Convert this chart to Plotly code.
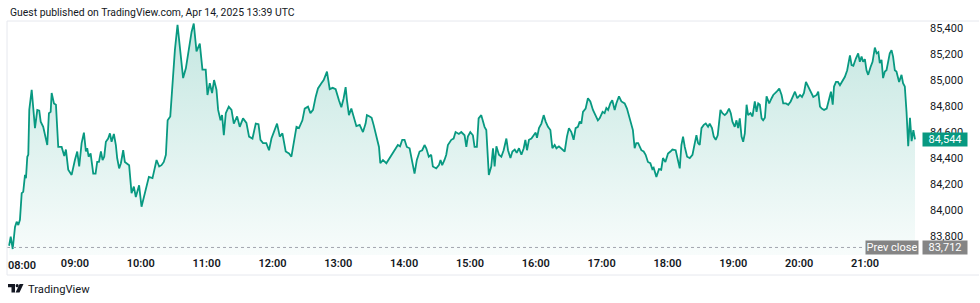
import pandas as pd
import plotly.graph_objects as go

# ---- data -------------------------------------------------------------
SESSION_START = "2025-04-14 08:00"
MINUTES = [
    0.0, 1.5, 3.3, 5.4, 6.9, 8.4, 9.9, 11.5, 12.9, 14.5, 15.4, 16.6, 17.5, 18.4, 20.6, 23.6,
    25.7, 27.5, 28.8, 31.1, 34.8, 36.3, 37.9, 38.8, 40.9, 42.7, 44.8, 47.9, 50.3, 51.8, 53.9,
    57.0, 60.0, 62.1, 63.9, 66.1, 68.2, 70.0, 71.2, 72.5, 74.3, 76.7, 78.8, 80.3, 81.9, 83.7,
    85.2, 86.7, 88.2, 90.3, 91.9, 93.4, 95.5, 97.3, 98.5, 100.3, 101.9, 104.0, 105.5, 109.4,
    111.6, 113.7, 115.5, 117.1, 118.5, 120.7, 122.8, 125.3, 127.4, 130.7, 134.4, 136.8, 138.9,
    141.0, 142.9, 144.5, 146.9, 149.2, 151.1, 153.5, 158.6, 161.1, 164.1, 166.3, 168.3, 170.8,
    173.8, 176.2, 179.2, 180.8, 182.9, 185.0, 186.8, 189.0, 190.5, 192.7, 194.1, 195.7, 197.5,
    200.2, 202.7, 204.8, 207.8, 210.2, 213.2, 216.3, 218.7, 221.8, 224.8, 227.3, 229.1, 231.4,
    234.4, 236.9, 239.1, 242.1, 244.2, 246.7, 249.1, 252.1, 255.1, 257.3, 259.4, 261.9, 264.2,
    267.3, 269.4, 272.4, 274.6, 277.0, 279.4, 281.5, 284.6, 286.7, 289.7, 292.2, 294.9, 297.6,
    300.6, 302.8, 304.9, 306.7, 307.9, 309.7, 311.9, 314.0, 316.5, 319.5, 322.5, 324.9, 326.1,
    328.6, 330.4, 332.2, 334.7, 337.1, 338.3, 340.7, 343.8, 346.8, 349.8, 351.3, 354.3, 356.3,
    358.3, 360.4, 362.5, 365.0, 366.5, 368.0, 369.5, 371.6, 374.1, 376.5, 378.6, 380.2, 382.5,
    384.7, 386.2, 389.3, 391.7, 393.2, 394.7, 396.8, 398.4, 399.9, 403.0, 405.1, 406.9, 409.9,
    412.1, 415.1, 416.7, 418.1, 420.3, 422.7, 424.2, 426.3, 427.9, 430.3, 431.8, 433.3, 434.9,
    437.2, 439.4, 441.0, 442.5, 444.1, 446.4, 448.6, 450.7, 453.2, 454.7, 456.9, 458.7, 460.8,
    462.6, 464.7, 466.9, 469.0, 470.5, 472.0, 473.8, 476.0, 478.1, 479.9, 481.1, 482.9, 485.1,
    487.2, 489.0, 491.1, 493.3, 495.1, 497.2, 498.8, 501.1, 503.3, 504.8, 506.3, 508.4, 510.2,
    512.4, 514.5, 516.3, 518.4, 520.0, 521.5, 523.0, 525.4, 527.5, 529.7, 532.1, 534.5, 536.6,
    538.2, 540.9, 542.7, 544.3, 545.9, 547.9, 549.7, 551.9, 553.4, 555.8, 558.0, 561.0, 563.1,
    564.9, 567.1, 568.5, 570.1, 571.6, 573.3, 576.2, 578.3, 580.1, 582.2, 584.4, 586.2, 587.4,
    589.9, 592.3, 594.3, 595.9, 598.1, 600.5, 602.7, 604.5, 607.5, 609.6, 611.2, 612.7, 614.2,
    615.8, 617.9, 620.3, 622.8, 624.9, 626.4, 627.9, 629.4, 631.0, 633.1, 634.9, 637.0, 638.5,
    640.6, 642.2, 644.0, 645.8, 648.3, 650.1, 652.2, 654.0, 656.1, 657.7, 659.2, 661.3, 662.9,
    664.4, 665.9, 667.5, 669.0, 670.5, 672.1, 673.5, 675.7, 677.5, 679.6, 681.2, 682.7, 684.2,
    685.8, 687.2, 688.8, 690.3, 692.7, 694.9, 696.4, 699.5, 701.9, 704.0, 705.5, 708.0, 710.1,
    712.3, 714.7, 716.2, 718.3, 720.8, 722.6, 724.4, 726.2, 728.3, 730.5, 732.9, 736.0, 737.4,
    739.0, 740.6, 742.7, 745.1, 747.5, 749.0, 750.6, 751.8, 753.6, 755.4, 757.2, 759.6, 761.7,
    763.8, 766.3, 767.8, 769.4, 771.7, 773.8, 775.3, 776.9, 778.3, 779.9, 781.4, 782.9, 785.1,
    786.9, 789.0, 790.6, 792.2, 793.5, 795.1, 796.5, 798.1, 799.6, 801.1, 802.6, 804.2, 805.6,
    807.2, 808.7, 811.1, 813.3, 814.7, 816.3, 817.9, 819.4, 821.0, 822.5, 824.1, 825.6,
]
PRICES = [
    83725, 83795, 83700, 83870, 83910, 83885, 83925, 84130, 84140, 84270, 84245, 84410, 84425, 84770, 84925, 84630,
    84770, 84765, 84680, 84640, 84500, 84745, 84755, 84900, 84820, 84810, 84485, 84485, 84415, 84465, 84310,
    84270, 84385, 84450, 84335, 84515, 84595, 84450, 84475, 84410, 84435, 84280, 84280, 84370, 84370, 84450,
    84385, 84410, 84525, 84550, 84590, 84525, 84585, 84500, 84400, 84320, 84360, 84460, 84370, 84345,
    84130, 84180, 84100, 84140, 84190, 84025, 84100, 84165, 84255, 84245, 84385, 84335, 84345,
    84370, 84425, 84690, 84720, 85000, 85230, 85425, 85015, 85090, 85255, 85370, 85435, 85220,
    85280, 85080, 85080, 84885, 84975, 84900, 85000, 84925, 84770, 84690, 84730, 84575, 84745,
    84795, 84770, 84665, 84720, 84640, 84705, 84670, 84565, 84550, 84665, 84660, 84540, 84515,
    84515, 84460, 84550, 84615, 84665, 84565, 84590, 84450, 84435, 84410, 84515, 84640, 84630,
    84690, 84780, 84795, 84745, 84770, 84870, 84935, 84975, 85000, 85065, 84930, 84940, 84930,
    84845, 84790, 84860, 84945, 84845, 84730, 84780, 84720, 84645, 84655, 84600, 84665, 84730,
    84720, 84710, 84655, 84565, 84485, 84360, 84385, 84360, 84400, 84435, 84460, 84500, 84490,
    84540, 84540, 84485, 84475, 84410, 84335, 84280, 84385, 84450, 84460, 84500, 84475, 84410,
    84425, 84335, 84320, 84345, 84385, 84345, 84385, 84425, 84500, 84540, 84550, 84600, 84585,
    84600, 84575, 84485, 84565, 84600, 84575, 84485, 84485, 84705, 84730, 84680, 84640, 84615,
    84270, 84335, 84475, 84335, 84490, 84425, 84410, 84460, 84550, 84460, 84400, 84450, 84465,
    84440, 84475, 84425, 84475, 84540, 84460, 84540, 84550, 84575, 84595, 84555, 84630, 84665,
    84730, 84680, 84640, 84615, 84475, 84500, 84475, 84490, 84475, 84460, 84450, 84565, 84630,
    84600, 84540, 84630, 84640, 84680, 84665, 84755, 84780, 84860, 84835, 84770, 84730, 84690,
    84705, 84755, 84745, 84785, 84770, 84820, 84845, 84770, 84820, 84875, 84835, 84820, 84780,
    84720, 84640, 84615, 84475, 84515, 84515, 84460, 84450, 84425, 84370, 84360, 84315, 84325,
    84255, 84315, 84310, 84400, 84370, 84435, 84450, 84465, 84460, 84370, 84320, 84500, 84565,
    84485, 84410, 84400, 84425, 84515, 84575, 84515, 84500, 84630, 84655, 84665, 84640, 84665,
    84630, 84565, 84540, 84575, 84770, 84745, 84730, 84745, 84780, 84745, 84680, 84640, 84690,
    84630, 84705, 84565, 84525, 84590, 84810, 84730, 84745, 84720, 84835, 84755, 84820, 84810,
    84705, 84690, 84710, 84875, 84820, 84860, 84885, 84910, 84935, 84885, 84820, 84820, 84810,
    84835, 84885, 84910, 84860, 84885, 84870, 84900, 84985, 84950, 84910, 84870, 84885, 84910,
    84795, 84780, 84770, 84780, 84860, 84910, 84810, 84950, 84985, 84985, 84960, 85000, 85025,
    85075, 85190, 85115, 85110, 85165, 85205, 85140, 85180, 85140, 85160, 85075, 85040, 85100,
    85140, 85250, 85205, 85215, 85130, 85155, 85015, 85065, 85075, 85140, 85205, 85230, 85180,
    85075, 85065, 84985, 85040, 84975, 84950, 84750, 84490, 84710, 84530, 84615, 84544,
]
PREV_CLOSE = 83712
LAST_PRICE = 84544
Y_TICKS = [83800, 84000, 84200, 84400, 84600, 84800, 85000, 85200, 85400]
Y_RANGE = [83654, 85454]
X_RANGE_MIN = [-1.9, 826.5]
HOUR_TICKS = ["09:00", "10:00", "11:00", "12:00", "13:00", "14:00", "15:00",
              "16:00", "17:00", "18:00", "19:00", "20:00", "21:00"]
HEADER = "Guest published on TradingView.com, Apr 14, 2025 13:39 UTC"

# ---- figure -------------------------------------------------------------
W, H = 980, 303
ML, MR, MT, MB = 7, 64, 21, 48
PW, PH = W - ML - MR, H - MT - MB

def px(x):
    return (x - ML) / PW

def py(y):
    return (H - MB - y) / PH

base = pd.Timestamp(SESSION_START)
times = [base + pd.Timedelta(minutes=m) for m in MINUTES]
day = base.strftime("%Y-%m-%d")
tickvals = [pd.Timestamp(f"{day} {h}") for h in HOUR_TICKS]

GREEN = "#089981"
TXT = "#131722"
FONT = "Roboto"

fig = go.Figure()
fig.add_trace(go.Scatter(
    x=times, y=PRICES, mode="lines",
    line=dict(color=GREEN, width=1.8),
    fill="tozeroy",
    fillgradient=dict(type="vertical",
                      colorscale=[[0, "rgba(8,153,129,0.03)"], [1, "rgba(8,153,129,0.24)"]],
                      start=Y_RANGE[0], stop=Y_RANGE[1]),
    hoverinfo="skip", showlegend=False,
))

fig.update_layout(
    width=W, height=H,
    margin=dict(l=ML, r=MR, t=MT, b=MB),
    paper_bgcolor="white", plot_bgcolor="white",
    font=dict(family=FONT, color=TXT),
    xaxis=dict(
        type="date",
        range=[base + pd.Timedelta(minutes=X_RANGE_MIN[0]), base + pd.Timedelta(minutes=X_RANGE_MIN[1])],
        tickvals=tickvals, tickformat="%H:%M",
        showgrid=False, zeroline=False, showline=False,
        ticks="", tickfont=dict(family=FONT, size=11, color=TXT, weight=600),
    ),
    yaxis=dict(
        side="right", range=Y_RANGE, tickvals=Y_TICKS, tickformat=",",
        showgrid=False, zeroline=False, showline=False,
        ticks="", ticklabelstandoff=13,
        tickfont=dict(family=FONT, size=11, color=TXT),
    ),
)

# prev close dotted line
fig.add_shape(type="line", xref="paper", yref="y", x0=0, x1=px(864), y0=PREV_CLOSE, y1=PREV_CLOSE,
              line=dict(color="#a3a6af", width=1, dash="dot"))

# frame lines
for (x0, y0, x1, y1) in [(7, 21, 979, 21), (7, 21, 7, 275), (7, 275, 979, 275)]:
    fig.add_shape(type="line", xref="paper", yref="paper", x0=px(x0), x1=px(x1), y0=py(y0), y1=py(y1),
                  line=dict(color="#e6e8ee", width=1))

ann = []
ann.append(dict(text=HEADER, xref="paper", yref="paper", x=px(8), y=py(13), xanchor="left", yanchor="middle",
                showarrow=False, font=dict(family=FONT, size=10.4, color=TXT)))
ann.append(dict(text="08:00", xref="x", yref="paper", x=base, y=py(265), xshift=13,
                xanchor="center", yanchor="middle", showarrow=False,
                font=dict(family=FONT, size=11, color=TXT, weight=600)))
ann.append(dict(text=f"{LAST_PRICE:,}", xref="paper", yref="y", x=px(944.5), y=LAST_PRICE,
                xanchor="center", yanchor="middle", showarrow=False, bgcolor=GREEN,
                width=42, height=11, borderpad=1, font=dict(family=FONT, size=11, color="white")))
ann.append(dict(text=f"{PREV_CLOSE:,}", xref="paper", yref="y", x=px(944.5), y=PREV_CLOSE,
                xanchor="center", yanchor="middle", showarrow=False, bgcolor="#858585",
                width=42, height=11, borderpad=1, font=dict(family=FONT, size=11, color="white")))
ann.append(dict(text="Prev close", xref="paper", yref="y", x=px(892), y=PREV_CLOSE,
                xanchor="center", yanchor="middle", showarrow=False, bgcolor="#858585",
                width=50, height=11, borderpad=1, font=dict(family=FONT, size=11, color="white")))
ann.append(dict(text="TradingView", xref="paper", yref="paper", x=px(26), y=py(289),
                xanchor="left", yanchor="middle", showarrow=False,
                font=dict(family=FONT, size=11.2, color=TXT)))
fig.update_layout(annotations=ann)

# TradingView logo (small glyph)
def path(points):
    s = "M " + " L ".join(f"{px(a):.5f},{py(b):.5f}" for a, b in points) + " Z"
    return s

fig.add_shape(type="path", xref="paper", yref="paper",
              path=path([(8, 284), (15, 284), (15, 292.5), (11.5, 292.5), (11.5, 287.2), (8, 287.2)]),
              fillcolor=TXT, line=dict(width=0))
fig.add_shape(type="path", xref="paper", yref="paper",
              path=path([(15.6, 292.5), (19.6, 284), (23.5, 284), (19.5, 292.5)]),
              fillcolor=TXT, line=dict(width=0))
fig.add_shape(type="circle", xref="paper", yref="paper",
              x0=px(15.6), x1=px(18.8), y0=py(287.3), y1=py(284.1),
              fillcolor=TXT, line=dict(width=0))

fig.write_html("out.html")
